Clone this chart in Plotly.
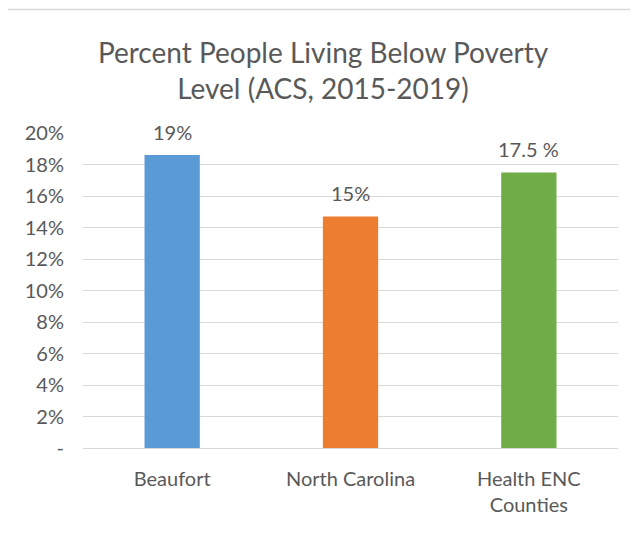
import plotly.graph_objects as go

categories = ["Beaufort", "North Carolina", "Health ENC<br>Counties"]
values = [0.186, 0.147, 0.175]
labels = ["19%", "15%", "17.5 %"]
colors = ["#5b9bd5", "#ed7d31", "#70ad47"]
tick_vals = [0, 0.02, 0.04, 0.06, 0.08, 0.10, 0.12, 0.14, 0.16, 0.18, 0.20]
tick_text = ["-", "2%", "4%", "6%", "8%", "10%", "12%", "14%", "16%", "18%", "20%"]

FONT = "Lato, 'Open Sans', sans-serif"
GREY = "#595959"

fig = go.Figure()
fig.add_trace(go.Bar(x=categories, y=values, marker=dict(color=colors, line=dict(width=0)),
                     hoverinfo="skip"))

for c, v, t in zip(categories, values, labels):
    fig.add_annotation(x=c, y=v, text=t, showarrow=False, yanchor="middle", yshift=23,
                       font=dict(family=FONT, size=20, color=GREY))

# page has an 8px body margin, so figure coords = page coords - 8
W, H = 630, 525
L, R, T, B = 75, 610, 124.7, 440.3
fig.add_shape(type="rect", xref="paper", yref="paper",
              x0=(-1 - L) / (R - L), x1=(700 - L) / (R - L),
              y0=(B - 560) / (B - T), y1=(B - 1) / (B - T),
              line=dict(color="#d9d9d9", width=1.5), fillcolor="rgba(0,0,0,0)", layer="below")

fig.update_layout(
    width=W, height=H,
    margin=dict(l=L, r=W - R, t=T, b=H - B),
    paper_bgcolor="white", plot_bgcolor="white",
    bargap=0.69,
    showlegend=False,
    title=dict(text="Percent People Living Below Poverty<br>Level (ACS, 2015-2019)",
               x=0.5, xanchor="center", y=1 - 55 / H, yanchor="middle",
               font=dict(family=FONT, size=28, color=GREY)),
    font=dict(family=FONT, size=20, color=GREY),
    xaxis=dict(showgrid=False, showline=False, ticks="", tickfont=dict(size=20, color=GREY),
               ticklabelstandoff=17),
    yaxis=dict(range=[0, 0.2], tickvals=tick_vals, ticktext=tick_text,
               showgrid=True, gridcolor="#d9d9d9", gridwidth=1,
               zeroline=True, zerolinecolor="#d9d9d9", zerolinewidth=1,
               showline=False, ticks="", tickfont=dict(size=20, color=GREY),
               ticklabelstandoff=18),
)

fig.write_html("out.html")
